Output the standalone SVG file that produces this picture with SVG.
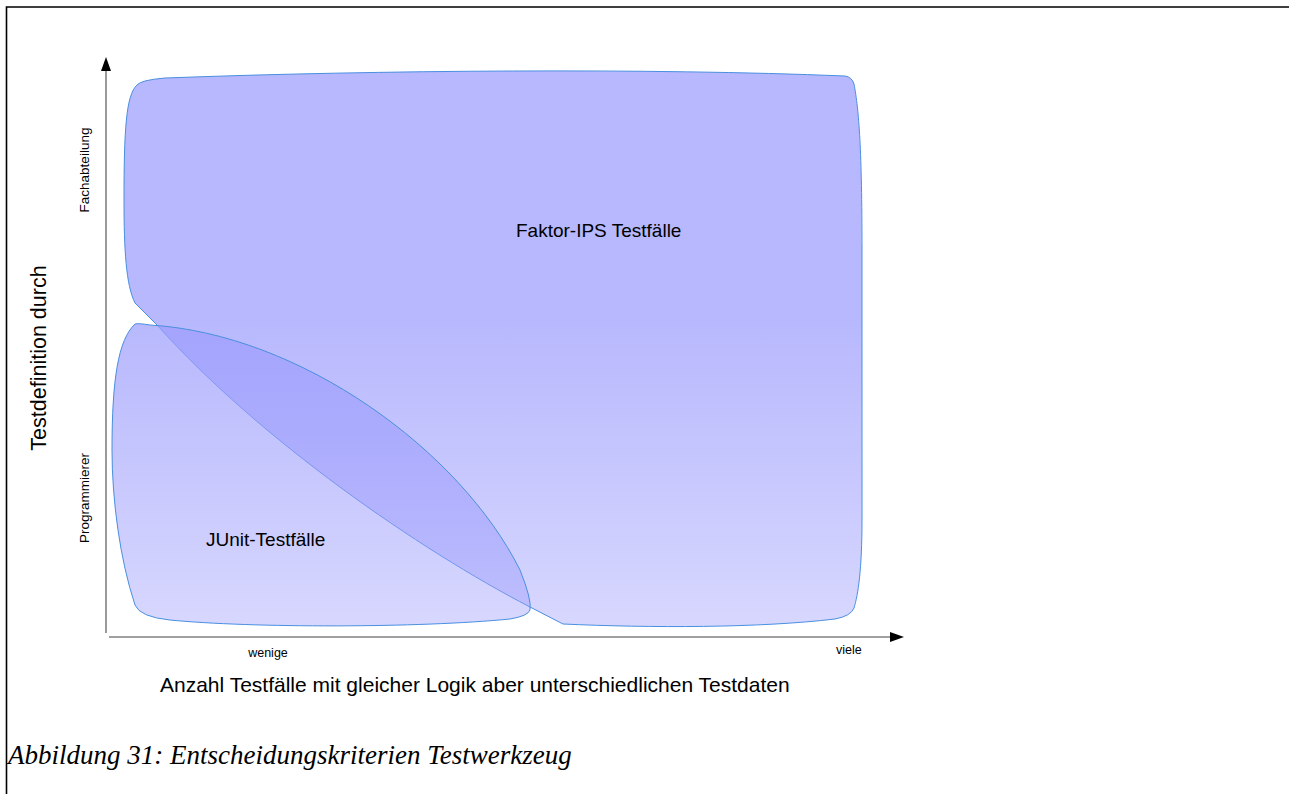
<svg xmlns="http://www.w3.org/2000/svg" width="1289" height="794" viewBox="0 0 1289 794">
<style>
  .sans { font-family: "Liberation Sans", Arial, sans-serif; fill: #000; }
  .small { font-size: 12.5px; }
  .vsmall { font-size: 13.5px; }
  .title { font-size: 21px; }
  .vtitle { font-size: 21.5px; }
  .lbl { font-size: 19px; }
  .region { stroke: #4a8fe0; stroke-width: 1; fill: url(#grad); }
  .axis { stroke: #808080; stroke-width: 1.6; fill: none; }
  .frame { stroke: #000; stroke-width: 1.6; fill: none; }
</style>
<defs>
  <linearGradient id="grad" gradientUnits="userSpaceOnUse" x1="0" y1="320" x2="0" y2="630">
    <stop offset="0" stop-color="#9c9cfd" stop-opacity="0.72"/>
    <stop offset="1" stop-color="#9c9cfd" stop-opacity="0.4"/>
  </linearGradient>
  <marker id="arr" viewBox="0 0 14 10" refX="0" refY="5" markerWidth="14" markerHeight="10" markerUnits="userSpaceOnUse" orient="auto">
    <path d="M0,0 L14,5 L0,10 Z" fill="#000"/>
  </marker>
</defs>
<rect width="1289" height="794" fill="#fff"/>
<g id="frame">
  <path class="frame" d="M6.5,794 L6.5,7 L1289,7"/>
</g>
<g id="faktor-ips">
  <path class="region" d="M137,85 Q141,80 165,78 C380,70 650,68 845,76 Q852,77 854,84 C859,110 862,150 862,250 L862,520 C862,570 858,595 854,608 Q851,616 835,619 C760,628 650,628 563,624 L530,607 C420,550 260,440 157,325 L135,303 C126,285 124,250 124,200 C124,130 126,95 137,85 Z"/>
  <text class="sans lbl" x="516" y="237">Faktor-IPS Testfälle</text>
</g>
<g id="junit">
  <path class="region" d="M135,324 Q138,323 150,325 C300,334 460,450 520,570 Q532,600 530,610 Q528,616 510,619 C420,628 250,628 170,620 Q140,617 135,605 C120,560 112,500 112,450 C112,380 118,340 135,324 Z"/>
  <text class="sans lbl" x="206" y="546">JUnit-Testfälle</text>
</g>
<g id="connectors">
  <path class="axis" d="M106,633 L106,71" marker-end="url(#arr)"/>
  <path class="axis" d="M109,637 L890,637" marker-end="url(#arr)"/>
</g>
<g id="labels">
  <text class="sans vtitle" text-anchor="middle" transform="translate(46,358) rotate(-90)">Testdefinition durch</text>
  <text class="sans vsmall" text-anchor="middle" transform="translate(89,170) rotate(-90)">Fachabteilung</text>
  <text class="sans vsmall" text-anchor="middle" transform="translate(89,498) rotate(-90)">Programmierer</text>
  <text class="sans small" x="268" y="657" text-anchor="middle">wenige</text>
  <text class="sans small" x="836" y="654">viele</text>
  <text class="sans title" x="160" y="692">Anzahl Testfälle mit gleicher Logik aber unterschiedlichen Testdaten</text>
</g>
<g id="caption">
  <text x="8" y="764" font-family="'Liberation Serif', 'Times New Roman', serif" font-style="italic" font-size="27px" fill="#000">Abbildung 31: Entscheidungskriterien Testwerkzeug</text>
</g>
</svg>
